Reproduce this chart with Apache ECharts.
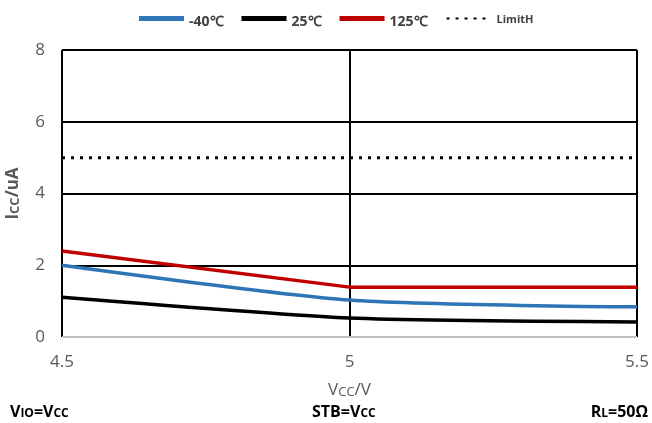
<!DOCTYPE html>
<html><head><meta charset="utf-8">
<script src="https://cdn.jsdelivr.net/npm/echarts@6/dist/echarts.min.js"></script>
<style>html,body{margin:0;padding:0;background:#fff}#c{width:652px;height:423px}</style>
</head><body><div id="c"></div>
<script>
const xValues = [4.5, 5, 5.5];
const seriesNames = ['-40℃', '25℃', '125℃', 'LimitH'];
const cold = [2.0, 1.03, 0.84];
const room = [1.11, 0.53, 0.42];
const hot = [2.4, 1.39, 1.39];
const limitH = [5, 5, 5];

const pair = arr => xValues.map((x, i) => [x, arr[i]]);
const font = '"Open Sans", sans-serif';
const chart = echarts.init(document.getElementById('c'));
chart.setOption({
  animation: false,
  backgroundColor: '#fff',
  legend: {
    top: 9, left: 134, itemGap: 18, itemWidth: 45, itemHeight: 5,
    textStyle: {
      fontFamily: font, fontWeight: 'bold', fontSize: 14, color: '#404040', padding: [8, 0, 0, 0],
      rich: { s: { fontFamily: font, fontWeight: 'bold', fontSize: 11, color: '#404040', padding: [0, 0, 6, 0] } }
    },
    formatter: n => n === 'LimitH' ? '{s|LimitH}' : n,
    data: seriesNames.map(n => n === 'LimitH'
      ? { name: n, itemStyle: { opacity: 0 } }
      : { name: n, icon: 'rect' })
  },
  grid: { left: 62, right: 15, top: 50, bottom: 86, outerBoundsMode: 'none' },
  xAxis: {
    type: 'value', min: 4.5, max: 5.5, interval: 0.5,
    name: '{a|V}{b|CC}{a|/V}', nameLocation: 'middle', nameGap: 45,
    nameTextStyle: { rich: { a: { fontFamily: font, fontSize: 17, color: '#595959' }, b: { fontFamily: font, fontSize: 13, color: '#595959', padding: [3, 0, 0, 0] } } },
    axisLine: { show: false },
    axisTick: { show: false },
    axisLabel: { fontFamily: font, fontSize: 17, color: '#595959', margin: 17, formatter: v => String(v) },
    splitLine: { show: true, lineStyle: { color: '#000', width: 2 } }
  },
  yAxis: {
    type: 'value', min: 0, max: 8, interval: 2,
    name: '{a|I}{b|CC}{a|/uA}', nameLocation: 'middle', nameGap: 40,
    nameTextStyle: { rich: { a: { fontFamily: font, fontSize: 17, fontWeight: 'bold', color: '#595959' }, b: { fontFamily: font, fontSize: 13, fontWeight: 'bold', color: '#595959', padding: [3, 0, 0, 0] } } },
    axisLine: { show: false },
    axisTick: { show: false },
    axisLabel: { fontFamily: font, fontSize: 17, color: '#595959', margin: 17 },
    splitLine: { show: true, lineStyle: { color: '#000', width: 2 } }
  },
  series: [
    { name: seriesNames[0], type: 'line', data: pair(cold), smooth: 0.25, symbol: 'none', lineStyle: { color: '#2e75b6', width: 3.5 }, itemStyle: { color: '#2e75b6' } },
    { name: seriesNames[1], type: 'line', data: pair(room), smooth: 0.2, symbol: 'none', lineStyle: { color: '#000', width: 3.5 }, itemStyle: { color: '#000' } },
    { name: seriesNames[2], type: 'line', data: pair(hot), symbol: 'none', lineStyle: { color: '#c00000', width: 3.5 }, itemStyle: { color: '#c00000' } },
    { name: seriesNames[3], type: 'line', data: pair(limitH), symbol: 'none', lineStyle: { color: '#000', width: 3, type: [3, 6] }, itemStyle: { color: '#000' } },
    { type: 'line', data: [[4.5, 0], [5.5, 0]], symbol: 'none', silent: true, lineStyle: { color: '#bfbfbf', width: 2 }, z: 1 }
  ],
  graphic: [
    { type: 'text', left: 10, top: 404, style: { text: '{a|V}{b|IO}{a|=V}{b|CC}', rich: { a: { fontFamily: font, fontWeight: 'bold', fontSize: 16, fill: '#000' }, b: { fontFamily: font, fontWeight: 'bold', fontSize: 12, fill: '#000', padding: [3, 0, 0, 0] } } } },
    { type: 'text', left: 312, top: 404, style: { text: '{a|STB=V}{b|CC}', rich: { a: { fontFamily: font, fontWeight: 'bold', fontSize: 16, fill: '#000' }, b: { fontFamily: font, fontWeight: 'bold', fontSize: 12, fill: '#000', padding: [3, 0, 0, 0] } } } },
    { type: 'text', right: 4, top: 404, style: { text: '{a|R}{b|L}{a|=50Ω}', rich: { a: { fontFamily: font, fontWeight: 'bold', fontSize: 16, fill: '#000' }, b: { fontFamily: font, fontWeight: 'bold', fontSize: 12, fill: '#000', padding: [3, 0, 0, 0] } } } }
  ]
});
</script></body></html>
